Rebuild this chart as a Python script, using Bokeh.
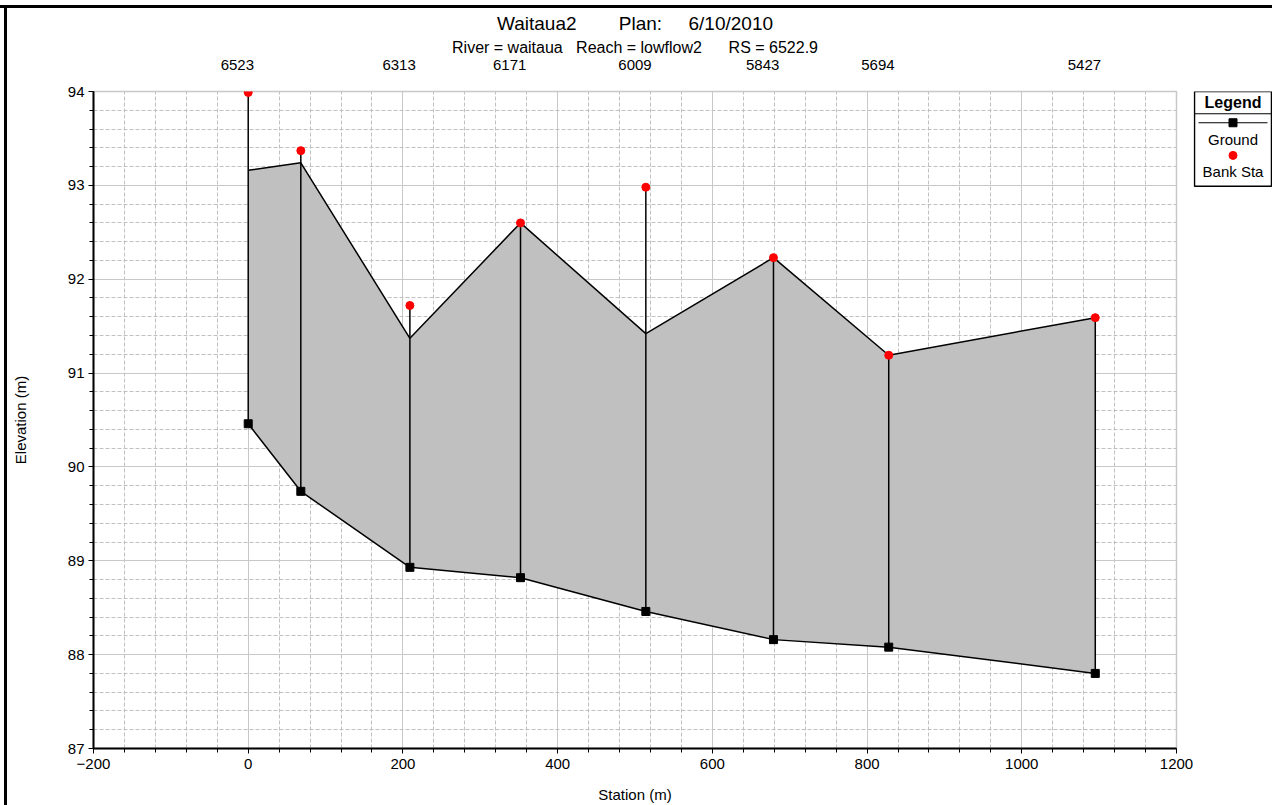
from bokeh.plotting import figure
from bokeh.layouts import column, row
from bokeh.models import LinearAxis, SingleIntervalTicker, FixedTicker, Range1d, ColumnDataSource, Div
from bokeh.core.properties import value
from bokeh.embed import file_html
from bokeh.resources import INLINE

# ---------------- data ----------------
station = [0, 68, 209, 352, 514, 679, 828, 1095]
ground_min = [90.46, 89.74, 88.93, 88.82, 88.46, 88.16, 88.08, 87.80]
ground_top = [93.16, 93.24, 91.37, 92.60, 91.42, 92.23, 91.19, 91.59]
bank_sta = [93.99, 93.37, 91.72, 92.60, 92.98, 92.23, 91.19, 91.59]
rs_labels = ["6523", "6313", "6171", "6009", "5843", "5694", "5427"]
rs_stations = [0, 209, 352, 514, 679, 828, 1095]
legend_labels = ["Ground", "Bank Sta"]
x_tick_interval = 200
y_tick_interval = 1

FONT = "Liberation Sans"
NB = "\u00a0"
title_text = "Waitaua2" + NB * 8 + "Plan:" + NB * 5 + "6/10/2010"
subtitle_text = "River = waitaua" + NB * 3 + "Reach = lowflow2" + NB * 6 + "RS = 6522.9"

# ---------------- main figure ----------------
MW, MH = 1186, 797
FL, FR, FT, FB = 86, 1169, 83, 741
X0, X1 = -200, 1200
Y0, Y1 = 87, 94
PX = (X1 - X0) / (FR - FL)

p = figure(width=MW, height=MH, x_range=Range1d(X0, X1), y_range=Range1d(Y0, Y1),
           output_backend="svg", toolbar_location=None,
           min_border_left=FL, min_border_right=MW - FR,
           min_border_top=FT, min_border_bottom=MH - FB)
p.background_fill_color = "white"
p.border_fill_color = "white"
p.outline_line_color = "#c8c8c8"
p.outline_line_width = 1.5

p.title.text = title_text
p.title.align = "center"
p.title.text_font = FONT
p.title.text_font_size = "19px"
p.title.text_font_style = "normal"
p.title.text_color = "black"
p.title.standoff = 3

p.xaxis.ticker = SingleIntervalTicker(interval=x_tick_interval, num_minor_ticks=5)
p.yaxis.ticker = SingleIntervalTicker(interval=y_tick_interval, num_minor_ticks=5)
for ax in (p.xaxis[0], p.yaxis[0]):
    ax.axis_line_color = "black"
    ax.axis_line_width = 2
    ax.major_tick_line_color = "black"
    ax.minor_tick_line_color = "black"
    ax.major_tick_in = 0
    ax.major_tick_out = 5
    ax.minor_tick_in = 0
    ax.minor_tick_out = 4
    ax.major_label_text_font = FONT
    ax.major_label_text_font_size = "15px"
    ax.major_label_text_color = "black"
    ax.axis_label_text_font = FONT
    ax.axis_label_text_font_size = "15px"
    ax.axis_label_text_font_style = "normal"
    ax.axis_label_text_color = "black"
p.xaxis.major_label_standoff = 5
p.yaxis.major_label_standoff = 4
p.xaxis.axis_label = "Station (m)"
p.xaxis.axis_label_standoff = 14
p.yaxis.axis_label = "Elevation (m)"
p.yaxis.axis_label_standoff = 36

# river-station labels on top
off = round(10.5 * PX)
top_ticks = [s - off for s in rs_stations]
top_axis = LinearAxis(ticker=FixedTicker(ticks=top_ticks),
                      major_label_overrides={t: l for t, l in zip(top_ticks, rs_labels)})
top_axis.axis_line_color = None
top_axis.major_tick_line_color = None
top_axis.minor_tick_line_color = None
top_axis.major_tick_out = 0
top_axis.major_tick_in = 0
top_axis.major_label_standoff = 22
top_axis.major_label_text_font = FONT
top_axis.major_label_text_font_size = "15px"
top_axis.major_label_text_color = "black"
top_axis.axis_label = subtitle_text
top_axis.axis_label_standoff = 1
top_axis.axis_label_text_font = FONT
top_axis.axis_label_text_font_size = "16px"
top_axis.axis_label_text_font_style = "normal"
top_axis.axis_label_text_color = "black"
p.add_layout(top_axis, "above")

for g in (p.xgrid[0], p.ygrid[0]):
    g.grid_line_color = "#c8c8c8"
    g.grid_line_width = 1
    g.minor_grid_line_color = "#c0c0c0"
    g.minor_grid_line_dash = "4 2"
    g.minor_grid_line_width = 1

src = ColumnDataSource(dict(station=station, gmin=ground_min, gtop=ground_top, bank=bank_sta))
p.varea(x="station", y1="gmin", y2="gtop", source=src, fill_color="#c0c0c0")
p.line("station", "gtop", source=src, line_color="black", line_width=1.5)
p.line("station", "gmin", source=src, line_color="black", line_width=1.5)
p.segment(x0="station", y0="gmin", x1="station", y1="bank", source=src,
          line_color="black", line_width=1.5)
p.scatter("station", "gmin", source=src, marker="square", size=8, color="black")
p.scatter("station", "bank", source=src, marker="circle", size=8, color="#ff0000")

# ---------------- legend figure (frame aligned with the main frame) ----------------
LW = 79
FH = FB - FT
lg = figure(width=LW, height=MH, x_range=Range1d(0, LW), y_range=Range1d(FH, 0),
            output_backend="svg", toolbar_location=None,
            x_axis_location=None, y_axis_location=None,
            min_border_left=0, min_border_right=0,
            min_border_top=FT, min_border_bottom=MH - FB)
lg.outline_line_color = None
lg.background_fill_color = "white"
lg.border_fill_color = "white"
for g in lg.grid:
    g.visible = False
BL, BR, BT, BB = 1, 78, 0, 95
cx = (BL + BR) / 2
lg.quad(left=[BL], right=[BR], top=[BT], bottom=[BB], fill_color="white",
        line_color="black", line_width=1.5)
lg.text(x=[cx], y=[10.7], text=["Legend"], text_align="center", text_baseline="middle",
        text_font=value(FONT), text_font_size="16px", text_font_style="bold", text_color="black")
lg.segment(x0=[BL], y0=[22.3], x1=[BR], y1=[22.3], line_color="black", line_width=1.2)
lg.segment(x0=[BL + 4], y0=[31.3], x1=[BR - 4], y1=[31.3], line_color="black", line_width=1.2)
lg.scatter(x=[cx], y=[31.3], marker="square", size=8, color="black")
lg.scatter(x=[cx], y=[64], marker="circle", size=8, color="#ff0000")
lg.text(x=[cx, cx], y=[48.3, 79.7], text=legend_labels, text_align="center", text_baseline="middle",
        text_font=value(FONT), text_font_size="15px", text_color="black")

# ---------------- outer frame strips ----------------
top_strip = Div(text="", width=1272, height=8, margin=0,
                styles={"background": "linear-gradient(to bottom, white 0px, white 5px, black 5px, black 8px)"})
left_strip = Div(text="", width=7, height=MH, margin=0,
                 styles={"background": "linear-gradient(to right, white 0px, white 4px, black 4px, black 7px)"})

layout = column(top_strip, row(left_strip, p, lg))
open("out.html", "w").write(file_html(layout, INLINE))
